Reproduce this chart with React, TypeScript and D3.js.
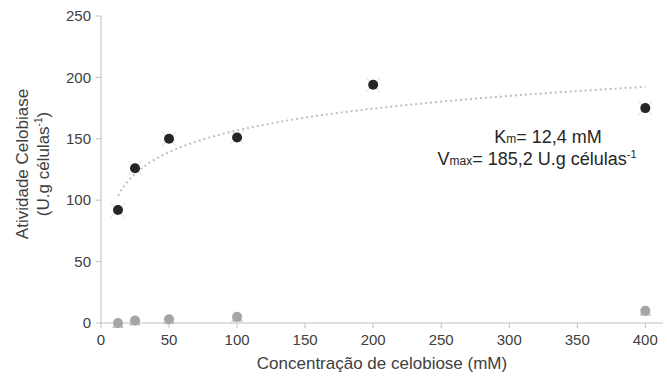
import React from 'react';
import * as d3 from 'd3';

// substrate concentrations (mM)
const concentrations = [12.5, 25, 50, 100, 200, 400];
// cellobiase activity (U.g células-1)
const activity = [92, 126, 150, 151, 194, 175];
// control series (grey markers)
const controlConc = [12.5, 25, 50, 100, 400];
const controlActivity = [0, 2, 3, 5, 10];

const xTicks = [0, 50, 100, 150, 200, 250, 300, 350, 400];
const yTicks = [0, 50, 100, 150, 200, 250];

const W = 667;
const H = 378;
const FONT = '"Liberation Sans", Arial, sans-serif';

// Excel-like logarithmic trendline: y = a*ln(x) + b
function logFit(xs: number[], ys: number[]) {
  const lx = xs.map(Math.log);
  const mx = d3.mean(lx) as number;
  const my = d3.mean(ys) as number;
  let num = 0;
  let den = 0;
  lx.forEach((v, i) => {
    num += (v - mx) * (ys[i] - my);
    den += (v - mx) * (v - mx);
  });
  const a = num / den;
  return { a, b: my - a * mx };
}

const App = () => {
  const x = d3.scaleLinear().domain([0, 413]).range([101, 663]);
  const y = d3.scaleLinear().domain([0, 250]).range([323, 16]);

  const { a, b } = logFit(concentrations, activity);
  const xMin = d3.min(concentrations) as number;
  const xMax = d3.max(concentrations) as number;
  const trend = d3.range(0, 61).map(i => {
    const cx = xMin * Math.pow(xMax / xMin, i / 60);
    return [cx, a * Math.log(cx) + b] as [number, number];
  });
  const line = d3.line<[number, number]>()
    .x(d => x(d[0]))
    .y(d => y(d[1]));

  const axisColor = '#bfbfbf';
  const textColor = '#404040';

  return (
    <div style={{ position: 'fixed', left: 0, top: 0 }}>
      <svg width={W} height={H} style={{ display: 'block', background: '#fff' }} fontFamily={FONT}>
        {/* y axis */}
        <line x1={x(0)} x2={x(0)} y1={y(250)} y2={y(0)} stroke={axisColor} strokeWidth={1} />
        {yTicks.map(t => (
          <g key={'y' + t}>
            <line x1={x(0) - 5} x2={x(0)} y1={y(t)} y2={y(t)} stroke={axisColor} />
            <text x={91} y={y(t)} dy="0.35em" textAnchor="end" fontSize={15} fill={textColor}>{t}</text>
          </g>
        ))}
        {/* x axis */}
        <line x1={x(0)} x2={x(413)} y1={y(0)} y2={y(0)} stroke={axisColor} strokeWidth={1} />
        {xTicks.map(t => (
          <g key={'x' + t}>
            <line x1={x(t)} x2={x(t)} y1={y(0)} y2={y(0) + 5} stroke={axisColor} />
            <text x={x(t)} y={345} textAnchor="middle" fontSize={15} fill={textColor}>{t}</text>
          </g>
        ))}

        {/* trendline */}
        <path d={line(trend) || ''} fill="none" stroke="#bfbfbf" strokeWidth={2} strokeDasharray="2 3" />

        {/* control markers */}
        {controlConc.map((c, i) => {
          const cx = x(c);
          const cy = y(controlActivity[i]);
          return (
            <g key={'c' + i}>
              <path d={`M${cx - 6},${cy + 5}L${cx},${cy - 5}L${cx + 6},${cy + 5}Z`} fill="#c8c8c8" />
              <circle cx={cx} cy={cy} r={5} fill="#a5a5a5" />
            </g>
          );
        })}

        {/* activity markers */}
        {concentrations.map((c, i) => {
          const cx = x(c);
          const cy = y(activity[i]);
          return (
            <g key={'a' + i}>
              <path d={`M${cx - 7},${cy - 7}L${cx + 7},${cy + 7}M${cx - 7},${cy + 7}L${cx + 7},${cy - 7}`} stroke="#d9d9d9" strokeWidth={1} />
              <circle cx={cx} cy={cy} r={5} fill="#262626" />
            </g>
          );
        })}

        {/* annotation */}
        <text x={548} y={143} textAnchor="middle" fontSize={18} fill="#262626">
          K<tspan fontSize={12}>m</tspan>= 12,4 mM
        </text>
        <text x={537} y={165} textAnchor="middle" fontSize={18} fill="#262626">
          V<tspan fontSize={12}>max</tspan>= 185,2 U.g células<tspan fontSize={11} dy={-7}>-1</tspan>
        </text>

        {/* axis titles */}
        <text x={382} y={369} textAnchor="middle" fontSize={17} fill={textColor}>Concentração de celobiose (mM)</text>
        <g transform="translate(22,164) rotate(-90)">
          <text x={0} y={6} textAnchor="middle" fontSize={17} fill={textColor}>Atividade Celobiase</text>
        </g>
        <g transform="translate(43,164) rotate(-90)">
          <text x={0} y={6} textAnchor="middle" fontSize={17} fill={textColor}>
            (U.g células<tspan fontSize={10} dy={-7}>-1</tspan><tspan dy={7}>)</tspan>
          </text>
        </g>
      </svg>
    </div>
  );
};

export default App;
